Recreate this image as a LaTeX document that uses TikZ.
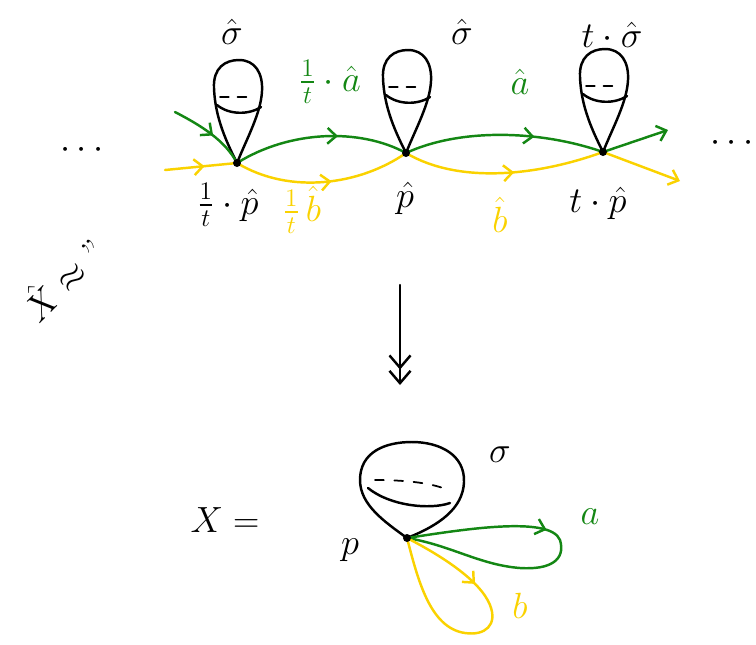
\documentclass[tikz,border=0pt]{standalone}
\usepackage{amsmath,amssymb}
\usepackage{xcolor}
\usetikzlibrary{arrows.meta,decorations.markings}

\definecolor{loopgreen}{RGB}{20,135,20}
\definecolor{loopyellow}{RGB}{250,210,0}

\tikzset{
  midarrow/.style={postaction={decorate},
    decoration={markings,mark=at position #1 with {\arrow{Straight Barb[length=5pt,width=9pt]}}}},
  midarrow/.default=0.5,
  endarrow/.style={-{Straight Barb[length=5pt,width=9pt]}}
}

\begin{document}
\begin{tikzpicture}[x=0.2mm, y=-0.2mm, line width=1.4pt, line cap=round, line join=round,
    every node/.style={font=\huge}]
  \useasboundingbox (0,0) rectangle (756,644);
  % covering space
  \coordinate (p0) at (237,163);
  \coordinate (p1) at (406,153);
  \coordinate (p2) at (603,152);
  \coordinate (g0) at (175,112);
  \coordinate (y0) at (165,170);
  \coordinate (g3) at (668,130);
  \coordinate (y3) at (680,181);
  \foreach \x/\y in {237/163,406/153,603/152} {
    \begin{scope}[shift={(\x,\y)}]
      \draw (0,0) .. controls (-10,-20) and (-22,-45) .. (-23,-75)
        .. controls (-24,-95) and (-12,-103) .. (2,-103)
        .. controls (18,-103) and (26,-90) .. (25,-72)
        .. controls (24,-50) and (10,-25) .. (0,0);
      \draw (-20,-58) .. controls (-8,-48) and (12,-48) .. (24,-56);
      \draw[line width=1pt,dash pattern=on 5pt off 5pt] (-17,-66) -- (15,-66);
    \end{scope}
  }
  \draw[loopgreen,midarrow=0.55] (g0) .. controls (200,125) and (225,140) .. (p0);
  \draw[loopyellow,midarrow=0.55] (y0) -- (p0);
  \draw[loopgreen,midarrow=0.6] (p0) .. controls (290,130) and (360,128) .. (p1);
  \draw[loopyellow,midarrow=0.55] (p0) .. controls (290,195) and (360,185) .. (p1);
  \draw[loopgreen,midarrow=0.65] (p1) .. controls (460,128) and (540,130) .. (p2);
  \draw[loopyellow,midarrow=0.55] (p1) .. controls (460,185) and (540,175) .. (p2);
  \draw[loopgreen,endarrow] (p2) -- (g3);
  \draw[loopyellow,endarrow] (p2) -- (y3);
  \foreach \v in {p0,p1,p2} \fill (\v) circle (4);
  \node (dotsl) at (85,150) {$\cdots$};
  \node (dotsr) at (735,143) {$\cdots$};
  \node (s0) at (232,32) {$\hat\sigma$};
  \node (s1) at (462,32) {$\hat\sigma$};
  \node (s2) at (612,35) {$t\cdot\hat\sigma$};
  \node[loopgreen] (a0) at (330,82) {$\tfrac{1}{t}\cdot\hat a$};
  \node[loopgreen] (a1) at (520,82) {$\hat a$};
  \node (r0) at (228,205) {$\tfrac{1}{t}\cdot\hat p$};
  \node[loopyellow] (b0) at (302,210) {$\tfrac{1}{t}\,\hat b$};
  \node (r1) at (405,198) {$\hat p$};
  \node[loopyellow] (b1) at (500,215) {$\hat b$};
  \node (r2) at (598,203) {$t\cdot\hat p$};
  \node[rotate=45] (cov) at (62,278) {$\hat X \approx$ ''};
  % projection
  \coordinate (top) at (400,285);
  \coordinate (bot) at (400,385);
  \draw[-{Straight Barb[length=7pt,width=12pt]Straight Barb[length=7pt,width=12pt]}] (top) -- (bot);
  % the space X
  \coordinate (q) at (407,538);
  \draw (q) .. controls (385,522) and (360,505) .. (360,480)
    .. controls (360,452) and (385,442) .. (412,442)
    .. controls (440,442) and (465,455) .. (464,482)
    .. controls (463,508) and (440,525) .. (q);
  \draw (368,488) .. controls (390,506) and (430,510) .. (450,503);
  \draw[line width=1pt,dash pattern=on 5pt off 6pt] (375,480) .. controls (400,480) and (430,482) .. (448,490);
  \draw[loopgreen,midarrow=0.42] (q) .. controls (460,530) and (550,515) .. (560,540)
    .. controls (566,560) and (550,570) .. (520,568)
    .. controls (480,565) and (450,545) .. (q);
  \draw[loopyellow,midarrow=0.3] (q) .. controls (440,555) and (480,580) .. (490,605)
    .. controls (498,625) and (485,636) .. (465,633)
    .. controls (430,628) and (418,580) .. (q);
  \fill (q) circle (4);
  \node (x) at (225,520) {$X=$};
  \node (sig) at (500,455) {$\sigma$};
  \node (rq) at (350,550) {$p$};
  \node[loopgreen] (la) at (590,517) {$a$};
  \node[loopyellow] (lb) at (520,606) {$b$};
\end{tikzpicture}
\end{document}
